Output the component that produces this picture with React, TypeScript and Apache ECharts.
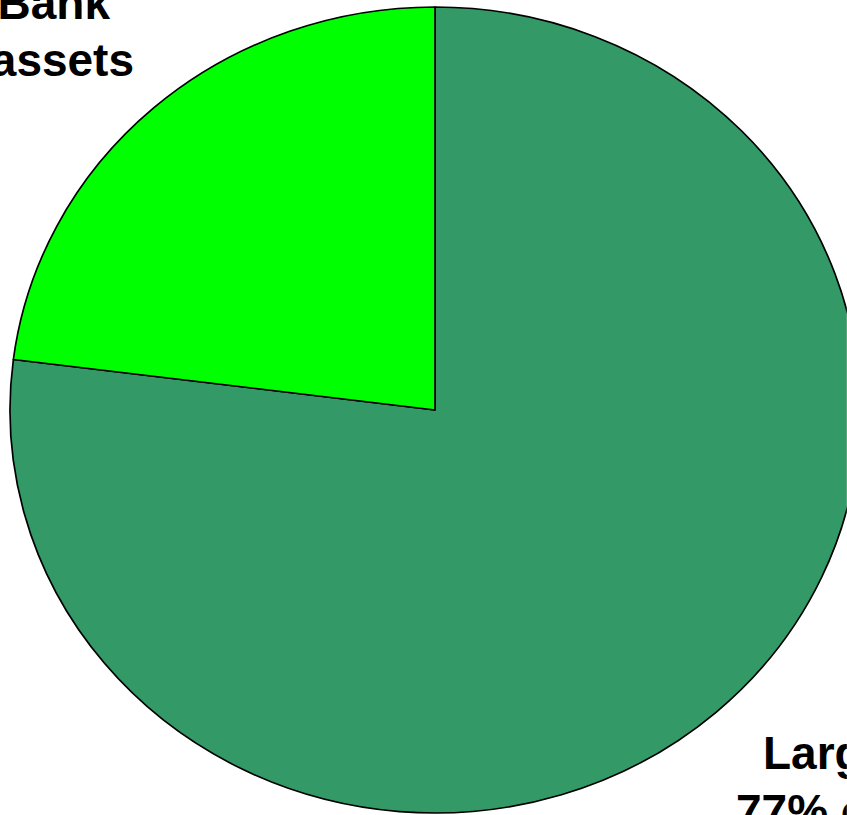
import React, { useEffect, useRef } from "react";
import * as echarts from "echarts";

const categories = ["Large Bank assets", "Small Bank assets"];
const values = [77, 23];
const colors = ["#339966", "#00FF00"];
const labelLines = [
  ["Bank", "assets"],
  ["Large", "77% of"],
];

const K = 425 / 403; // horizontal stretch of the original chart
const W = 847;
const H = 815;
const ASC = 40; // top-of-box to baseline offset for 46px text

export default function App() {
  const ref = useRef<HTMLDivElement>(null);
  useEffect(() => {
    document.body.style.margin = "0";
    const chart = echarts.init(ref.current!, null, { renderer: "svg" });
    const font = "bold 46px 'Liberation Sans', Arial, sans-serif";
    const txt = (s: string, sx: number, baseline: number, align: string) => ({
      type: "text",
      x: sx / K,
      y: baseline - ASC,
      scaleX: 1 / K,
      style: {
        text: s,
        font,
        fill: "#000",
        align,
        verticalAlign: "top",
      },
    });
    chart.setOption({
      animation: false,
      backgroundColor: "#fff",
      series: [
        {
          type: "pie",
          center: [435 / K, 410],
          radius: [0, 403],
          startAngle: 90,
          clockwise: true,
          label: { show: false },
          labelLine: { show: false },
          emphasis: { disabled: true },
          itemStyle: { borderColor: "#000", borderWidth: 1.6 },
          data: categories.map((c, i) => ({
            name: c,
            value: values[i],
            itemStyle: { color: colors[i] },
          })),
        },
      ],
      graphic: [
        txt(labelLines[0][0], 110, 20, "right"),
        txt(labelLines[0][1], 134, 77, "right"),
        txt(labelLines[1][0], 763, 770, "left"),
        txt(labelLines[1][1], 736, 828, "left"),
      ],
    });
    return () => chart.dispose();
  }, []);
  return (
    <div style={{ position: "fixed", left: 0, top: 0, width: W, height: H, overflow: "hidden" }}>
      <div
        ref={ref}
        style={{
          width: W / K,
          height: H,
          transform: `scaleX(${K})`,
          transformOrigin: "0 0",
        }}
      />
    </div>
  );
}
